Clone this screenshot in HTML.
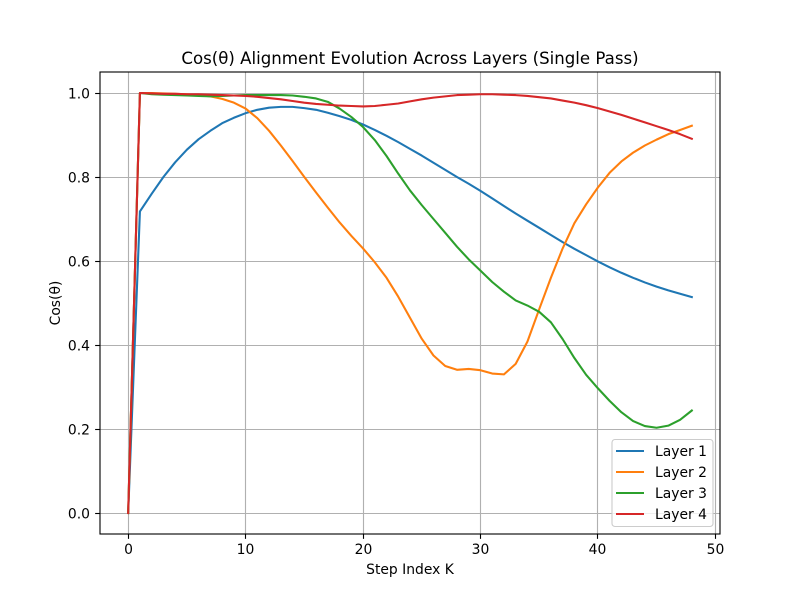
<!DOCTYPE html>
<html lang="en">
<head>
<meta charset="utf-8">
<title>Cos(θ) Alignment Evolution Across Layers</title>
<style>
html,body{margin:0;padding:0;background:#fff;}
svg{display:block;font-family:"DejaVu Sans","Liberation Sans",sans-serif;}
</style>
</head>
<body>
<svg id="chart" width="800" height="600" viewBox="0 0 800 600" xmlns="http://www.w3.org/2000/svg"></svg>
<script>
const xTicks = [0, 10, 20, 30, 40, 50];
const yTicks = [0.0, 0.2, 0.4, 0.6, 0.8, 1.0];
const seriesNames = ['Layer 1', 'Layer 2', 'Layer 3', 'Layer 4'];
const seriesColors = ['#1f77b4', '#ff7f0e', '#2ca02c', '#d62728'];
const layer1 = [0, .718, .76, .80, .835, .865, .89, .91, .928, .941, .952, .96, .965, .967, .967, .964, .96, .953, .945, .936, .925, .912, .898, .883, .867, .851, .834, .817, .800, .784, .767, .749, .731, .713, .696, .679, .662, .645, .629, .614, .599, .585, .572, .56, .549, .539, .53, .522, .514];
const layer2 = [0, 1, 1, .999, .998, .997, .995, .992, .986, .977, .963, .94, .91, .875, .838, .8, .763, .727, .692, .66, .63, .597, .56, .515, .465, .415, .375, .35, .341, .343, .34, .332, .33, .355, .408, .485, .56, .63, .69, .735, .775, .81, .837, .858, .875, .889, .902, .912, .922];
const layer3 = [0, 1, .997, .996, .995, .994, .993, .992, .993, .994, .995, .995, .995, .995, .994, .991, .987, .979, .963, .943, .919, .888, .85, .808, .768, .733, .70, .667, .634, .604, .577, .55, .527, .506, .494, .479, .454, .414, .369, .329, .297, .267, .24, .219, .207, .203, .208, .222, .244];
const layer4 = [0, 1, .999, .998, .998, .997, .997, .996, .995, .994, .993, .991, .988, .985, .981, .977, .974, .972, .970, .969, .968, .969, .972, .975, .98, .985, .989, .992, .995, .996, .997, .997, .996, .995, .993, .99, .987, .982, .977, .971, .964, .956, .948, .939, .93, .921, .912, .902, .891];
const seriesValues = [layer1, layer2, layer3, layer4];

const NS = 'http://www.w3.org/2000/svg';
const svg = document.getElementById('chart');
const left = 100, right = 720, top_ = 72, bottom = 534;
const xMin = -2.4, xMax = 50.4, yMin = -0.05, yMax = 1.05;
function xScale(v) { return left + (v - xMin) / (xMax - xMin) * (right - left); }
function yScale(v) { return bottom - (v - yMin) / (yMax - yMin) * (bottom - top_); }
function snap(p) { return Math.round(p - 0.5) + 0.5; }
function make(tag, attrs, text) {
  const el = document.createElementNS(NS, tag);
  for (const k in attrs) el.setAttribute(k, attrs[k]);
  if (text !== undefined) el.textContent = text;
  svg.appendChild(el);
  return el;
}
let el;

xTicks.forEach(function (t) {
  const x = snap(xScale(t));
  el = make('line', {x1: x, x2: x, y1: top_, y2: bottom, stroke: '#b0b0b0', 'stroke-width': 1.11});
  
  
});
yTicks.forEach(function (t) {
  const y = snap(yScale(t));
  el = make('line', {x1: left, x2: right, y1: y, y2: y, stroke: '#b0b0b0', 'stroke-width': 1.11});
  
  
});

seriesValues.forEach(function (vals, i) {
  const pts = vals.map(function (v, k) { return xScale(k).toFixed(2) + ',' + yScale(v).toFixed(2); }).join(' ');
  el = make('polyline', {points: pts, fill: 'none', stroke: seriesColors[i], 'stroke-width': 2.08, 'stroke-linejoin': 'round', 'stroke-linecap': 'square'});
  
  
});

el = make('rect', {x: 100, y: 72, width: 620, height: 462, fill: 'none', stroke: '#000', 'stroke-width': 1.11});



xTicks.forEach(function (t) {
  const x = snap(xScale(t));
  el = make('line', {x1: x, x2: x, y1: bottom, y2: bottom + 4.86, stroke: '#000', 'stroke-width': 1.11});
  
  
  el = make('text', {x: x, y: 554, 'text-anchor': 'middle', 'font-size': 13.89, fill: '#000'}, String(t));
  
  
});
yTicks.forEach(function (t) {
  const y = snap(yScale(t));
  el = make('line', {x1: left - 4.86, x2: left, y1: y, y2: y, stroke: '#000', 'stroke-width': 1.11});
  
  
  el = make('text', {x: 90, y: y + 5, 'text-anchor': 'end', 'font-size': 13.89, fill: '#000'}, t.toFixed(1));
  
  
});

el = make('text', {x: 410, y: 64, 'text-anchor': 'middle', 'font-size': 16.6, fill: '#000'}, 'Cos(θ) Alignment Evolution Across Layers (Single Pass)');


el = make('text', {x: 410, y: 574, 'text-anchor': 'middle', 'font-size': 13.89, fill: '#000'}, 'Step Index K');


el = make('text', {x: 60, y: 303, 'text-anchor': 'middle', 'font-size': 13.89, fill: '#000', transform: 'rotate(-90 60 303)'}, 'Cos(θ)');



el = make('rect', {x: 612, y: 439.5, width: 101, height: 87, rx: 3, ry: 3, fill: '#fff', 'fill-opacity': 0.8, stroke: '#ccc', 'stroke-width': 1.11});


seriesNames.forEach(function (name, i) {
  const y = 451 + i * 21;
  el = make('line', {x1: 616, x2: 644, y1: y, y2: y, stroke: seriesColors[i], 'stroke-width': 2.08});
  
  
  el = make('text', {x: 655, y: y + 5, 'font-size': 13.89, fill: '#000'}, name);
  
  
});
</script>
</body>
</html>
